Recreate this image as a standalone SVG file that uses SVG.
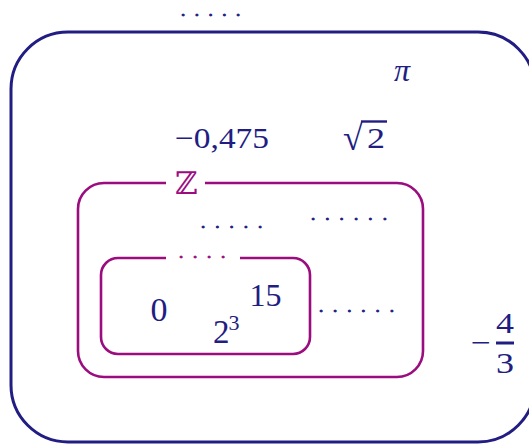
<svg xmlns="http://www.w3.org/2000/svg" width="529" height="444" viewBox="0 0 529 444">
<style>
.t{font-family:"Liberation Serif","Times New Roman",serif;fill:#221d82}
.dots{font-family:"Liberation Serif",serif;font-size:17px;stroke-width:1.1}
.nv{fill:#221d82;stroke:#221d82}
.pu{fill:#9b0d7f}
.pd{fill:#9b0d7f;stroke:#9b0d7f}
.box{fill:none;stroke-linecap:butt}
</style>
<rect width="529" height="444" fill="#ffffff"/>
<g id="connectors"></g>
<g id="R">
<rect class="box" x="11" y="32" width="524" height="410" rx="57" ry="57" stroke="#221d82" stroke-width="3"/>
<text class="dots nv" x="180.9" y="16.3" letter-spacing="9.5">.....</text>
<text class="t" x="394" y="81" font-size="32" font-style="italic">π</text>
<text class="t" x="175" y="148" font-size="30" textLength="94" lengthAdjust="spacingAndGlyphs">−0,475</text>
<text class="t" x="343" y="150" font-size="36">√</text>
<line x1="361" y1="121.5" x2="387" y2="121.5" stroke="#221d82" stroke-width="2.4"/>
<text class="t" x="367" y="148" font-size="29" textLength="18" lengthAdjust="spacingAndGlyphs">2</text>
<text class="dots nv" x="310.9" y="220.3" letter-spacing="10.1">......</text>
<text class="dots nv" x="318.9" y="312.3" letter-spacing="9.9">......</text>
<text class="t" x="471" y="352" font-size="28" textLength="20" lengthAdjust="spacingAndGlyphs">−</text>
<text class="t" x="505" y="333" font-size="29" text-anchor="middle" textLength="18" lengthAdjust="spacingAndGlyphs">4</text>
<line x1="496" y1="343" x2="514" y2="343" stroke="#221d82" stroke-width="3"/>
<text class="t" x="505" y="373" font-size="29" text-anchor="middle" textLength="18" lengthAdjust="spacingAndGlyphs">3</text>
</g>
<g id="Z">
<path class="box" d="M205,183 H397 A26,26 0 0 1 423,209 V351 A26,26 0 0 1 397,377 H104 A26,26 0 0 1 78,351 V209 A26,26 0 0 1 104,183 H166" stroke="#9b0d7f" stroke-width="2.6"/>
<text x="186" y="194" font-size="31" text-anchor="middle" font-family="DejaVu Serif,serif" class="pu">ℤ</text>
<text class="dots nv" x="200.9" y="228.3" letter-spacing="10">.....</text>
</g>
<g id="N">
<path class="box" d="M240,258 H293 A17,17 0 0 1 310,275 V337 A17,17 0 0 1 293,354 H118 A17,17 0 0 1 101,337 V275 A17,17 0 0 1 118,258 H166" stroke="#9b0d7f" stroke-width="2.6"/>
<text class="dots pd" x="178.9" y="258.3" letter-spacing="9.75">....</text>
<text class="t" x="150.5" y="321" font-size="34">0</text>
<text class="t" x="249.5" y="306" font-size="32">15</text>
<text class="t" x="213" y="343" font-size="33">2</text>
<text class="t" x="228.5" y="330" font-size="22">3</text>
</g>
</svg>
